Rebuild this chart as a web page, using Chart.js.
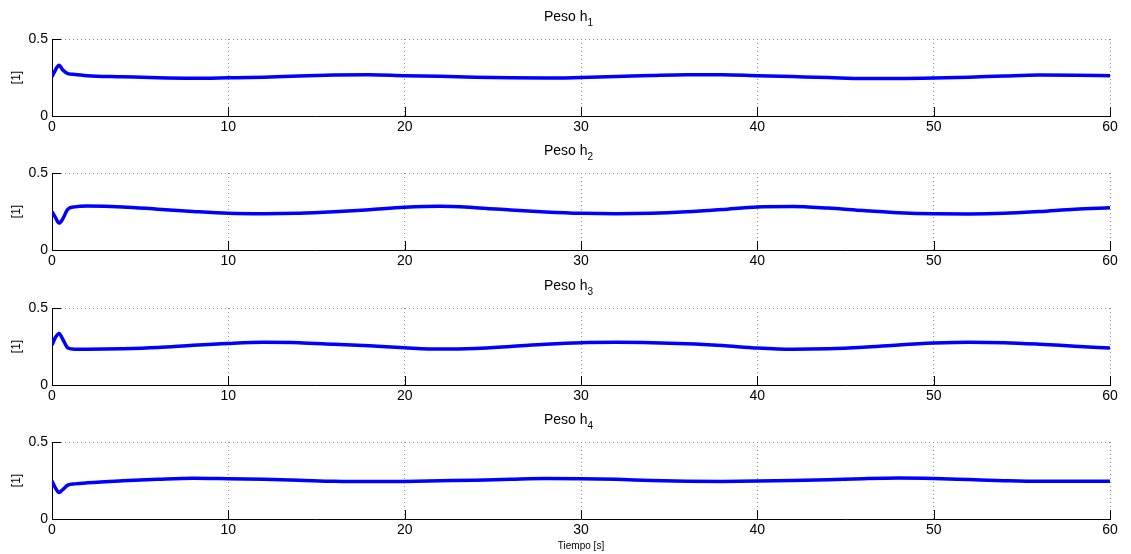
<!DOCTYPE html>
<html lang="es">
<head>
<meta charset="UTF-8">
<title>Peso h1..h4</title>
<script src="https://cdn.jsdelivr.net/npm/chart.js"></script>
<style>
  body { margin: 0; background: #fff; font-family: "Liberation Sans", Arial, sans-serif; }
  #wrap { position: relative; width: 1131px; height: 554px; }
  .panel { position: absolute; left: 0; }
  .title { position: absolute; left: 544px; font-size: 14px; line-height: 16px; color: #000; white-space: nowrap; }
  .title sub { font-size: 10px; vertical-align: -5px; line-height: 0; }
</style>
</head>
<body>
<div id="wrap">
  <canvas class="panel" id="c1" width="1131" height="134" style="top:0px"></canvas>
  <canvas class="panel" id="c2" width="1131" height="134" style="top:134px"></canvas>
  <canvas class="panel" id="c3" width="1131" height="134" style="top:269px"></canvas>
  <canvas class="panel" id="c4" width="1131" height="151" style="top:403px"></canvas>
  <div class="title" style="top:8px">Peso h<sub>1</sub></div>
  <div class="title" style="top:142px">Peso h<sub>2</sub></div>
  <div class="title" style="top:277px">Peso h<sub>3</sub></div>
  <div class="title" style="top:411px">Peso h<sub>4</sub></div>
</div>
<script>
  // time axis [s] and the four weights
  const tiempo = [0, 0.2, 0.4, 0.6, 0.9, 1.3, 2, 4, 6, 8, 10, 12, 14, 16, 18, 20, 22, 24, 26, 28, 30,
                  32, 34, 36, 38, 40, 42, 44, 46, 48, 50, 52, 54, 56, 58, 60];
  const pesoH1 = [0.255, 0.30, 0.33, 0.30, 0.275, 0.27, 0.262, 0.255, 0.248, 0.245, 0.248, 0.252, 0.26, 0.266, 0.268, 0.262,
                  0.258, 0.252, 0.248, 0.246, 0.25, 0.256, 0.263, 0.268, 0.268, 0.262, 0.256, 0.25, 0.243, 0.243, 0.246,
                  0.252, 0.26, 0.266, 0.265, 0.262];
  const pesoH2 = [0.25, 0.21, 0.175, 0.20, 0.265, 0.28, 0.285, 0.28, 0.265, 0.25, 0.238, 0.235, 0.238, 0.248, 0.262, 0.277,
                  0.284, 0.275, 0.26, 0.247, 0.238, 0.235, 0.238, 0.248, 0.263, 0.28, 0.282, 0.272, 0.256, 0.242, 0.235,
                  0.234, 0.238, 0.25, 0.265, 0.275];
  const pesoH3 = [0.26, 0.31, 0.335, 0.30, 0.24, 0.232, 0.232, 0.235, 0.243, 0.258, 0.27, 0.277, 0.275, 0.265, 0.255, 0.242,
                  0.233, 0.237, 0.25, 0.265, 0.275, 0.277, 0.275, 0.268, 0.256, 0.24, 0.232, 0.235, 0.245, 0.26, 0.272,
                  0.278, 0.275, 0.265, 0.252, 0.24];
  const pesoH4 = [0.247, 0.20, 0.172, 0.19, 0.22, 0.228, 0.235, 0.248, 0.258, 0.265, 0.262, 0.258, 0.252, 0.245, 0.243, 0.244,
                  0.248, 0.252, 0.258, 0.263, 0.262, 0.258, 0.25, 0.245, 0.244, 0.246, 0.25, 0.255, 0.262, 0.266, 0.263,
                  0.256, 0.249, 0.245, 0.245, 0.245];
  const xTicks = [0, 10, 20, 30, 40, 50, 60];
  const yTicks = [0, 0.5];

  const FONT = '"Liberation Sans", Arial, sans-serif';

  // matlab style ticks pointing into the axes
  const insideTicks = {
    id: 'insideTicks',
    afterDraw(chart) {
      const { ctx, chartArea: a, scales: { x, y } } = chart;
      ctx.save();
      ctx.strokeStyle = '#000';
      ctx.lineWidth = 1;
      ctx.beginPath();
      x.ticks.forEach(t => {
        const px = Math.round(x.getPixelForValue(t.value)) + 0.5;
        ctx.moveTo(px, a.bottom);
        ctx.lineTo(px, a.bottom - 9);
      });
      y.ticks.forEach(t => {
        const py = Math.round(y.getPixelForValue(t.value)) + 0.5;
        ctx.moveTo(a.left, py);
        ctx.lineTo(a.left + 9, py);
      });
      ctx.stroke();
      ctx.restore();
    }
  };

  function makeChart(id, values, last) {
    const h = last ? 35 : 18;
    new Chart(document.getElementById(id), {
      type: 'line',
      data: {
        datasets: [{
          data: tiempo.map((t, i) => ({ x: t, y: values[i] })),
          borderColor: '#0000ff',
          borderWidth: 3.5,
          pointRadius: 0,
          cubicInterpolationMode: 'monotone'
        }]
      },
      options: {
        responsive: false,
        devicePixelRatio: 1,
        animation: false,
        layout: { padding: { top: 39, right: 21, left: 0, bottom: 0 } },
        plugins: { legend: { display: false }, tooltip: { enabled: false } },
        scales: {
          x: {
            type: 'linear',
            min: 0, max: 60,
            afterBuildTicks: s => { s.ticks = xTicks.map(v => ({ value: v })); },
            afterFit: s => { s.height = h; },
            ticks: { color: '#000', font: { family: FONT, size: 14 }, padding: 3, maxRotation: 0 },
            grid: {
              drawTicks: false,
              color: c => c.tick && c.tick.value === 0 ? 'rgba(0,0,0,0)' : '#909090',
              lineWidth: 1
            },
            border: { display: true, color: '#000', width: 1, dash: [1, 3] },
            title: {
              display: last,
              text: 'Tiempo [s]',
              color: '#000',
              font: { family: FONT, size: 10 },
              padding: { top: 0, bottom: 2 }
            }
          },
          y: {
            min: 0, max: 0.5,
            afterBuildTicks: s => { s.ticks = yTicks.map(v => ({ value: v })); },
            afterFit: s => { s.width = 52; },
            ticks: { color: '#000', font: { family: FONT, size: 14 }, padding: 4, callback: v => String(v) },
            grid: {
              drawTicks: false,
              color: c => c.tick && c.tick.value === 0 ? 'rgba(0,0,0,0)' : '#909090',
              lineWidth: 1
            },
            border: { display: true, color: '#000', width: 1, dash: [1, 3] },
            title: {
              display: true,
              text: '[1]',
              color: '#000',
              font: { family: FONT, size: 12 },
              padding: { top: 9, bottom: 0 }
            }
          }
        }
      },
      plugins: [insideTicks]
    });
  }

  makeChart('c1', pesoH1, false);
  makeChart('c2', pesoH2, false);
  makeChart('c3', pesoH3, false);
  makeChart('c4', pesoH4, true);
</script>
</body>
</html>
